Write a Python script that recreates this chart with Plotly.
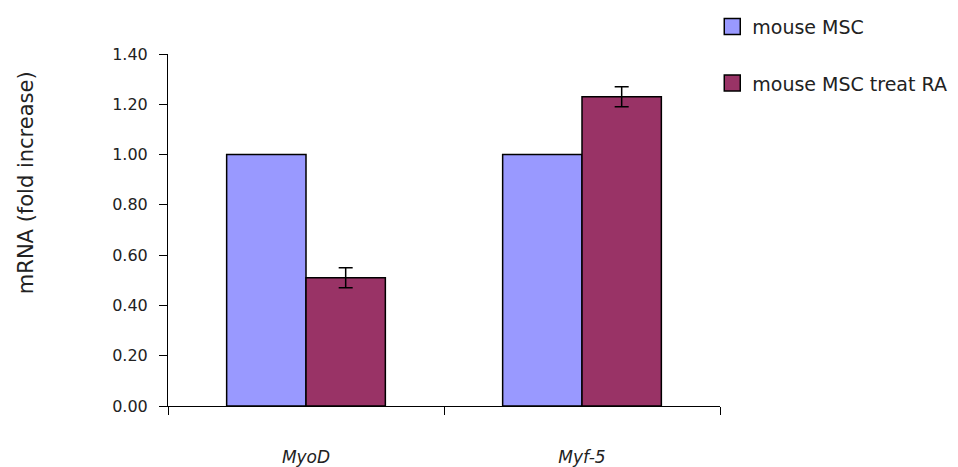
import plotly.graph_objects as go

# Relative mRNA expression (fold increase) for two myogenic genes
genes = ["MyoD", "Myf-5"]
gene_labels = ["<i>MyoD</i>", "<i>Myf-5</i>"]
series_names = ["mouse MSC", "mouse MSC treat RA"]
series_colors = ["#9999FF", "#993366"]
msc_values = [1.00, 1.00]
ra_values = [0.51, 1.23]
ra_errors = [0.04, 0.04]
y_ticks = [0.0, 0.2, 0.4, 0.6, 0.8, 1.0, 1.2, 1.4]
y_tick_text = ["0.00", "0.20", "0.40", "0.60", "0.80", "1.00", "1.20", "1.40"]

FONT = "DejaVu Sans, Liberation Sans, Arial, sans-serif"
TEXT = "#222"

fig = go.Figure()
fig.add_trace(go.Bar(
    x=genes, y=msc_values, name=series_names[0], showlegend=False,
    marker=dict(color=series_colors[0], line=dict(color="black", width=1.5)),
))
fig.add_trace(go.Bar(
    x=genes, y=ra_values, name=series_names[1], showlegend=False,
    marker=dict(color=series_colors[1], line=dict(color="black", width=1.5)),
    error_y=dict(type="data", array=ra_errors, color="black", thickness=1.5, width=7),
))

# Legend entries with larger square swatches
for i, (name, color) in enumerate(zip(series_names, series_colors)):
    fig.add_trace(go.Scatter(
        x=[None], y=[None], mode="markers", name=name, legendgroup=f"g{i}",
        marker=dict(symbol="square", size=16, color=color,
                    line=dict(color="black", width=1.5)),
    ))

fig.update_layout(
    width=958, height=467,
    margin=dict(l=168, r=238, t=54, b=61, autoexpand=False),
    paper_bgcolor="white", plot_bgcolor="white",
    barmode="group", bargap=0.425, bargroupgap=0,
    font=dict(family=FONT, size=16, color=TEXT),
    legend=dict(
        x=0.986, y=1.132, xanchor="left", yanchor="top",
        font=dict(size=19, color=TEXT),
        tracegroupgap=29, bgcolor="rgba(0,0,0,0)",
    ),
    xaxis=dict(
        range=[-0.5, 1.5], showline=True, linecolor="black", linewidth=1,
        ticks="outside", tickson="boundaries", ticklen=8, tickcolor="black",
        tickvals=genes, ticktext=gene_labels,
        ticklabelstandoff=36, tickfont=dict(size=17, color=TEXT),
        showgrid=False, zeroline=False,
    ),
    yaxis=dict(
        range=[0, 1.4], showline=True, linecolor="black", linewidth=1,
        ticks="outside", ticklen=8, tickcolor="black",
        tickvals=y_ticks, ticktext=y_tick_text,
        ticklabelstandoff=8, tickfont=dict(size=16, color=TEXT),
        showgrid=False, zeroline=False,
    ),
    annotations=[dict(
        text="mRNA (fold increase)", textangle=-90,
        xref="paper", yref="paper", x=-0.257, y=0.6335,
        xanchor="center", yanchor="middle", showarrow=False,
        font=dict(size=21, color=TEXT),
    )],
)

fig.write_html("out.html")
